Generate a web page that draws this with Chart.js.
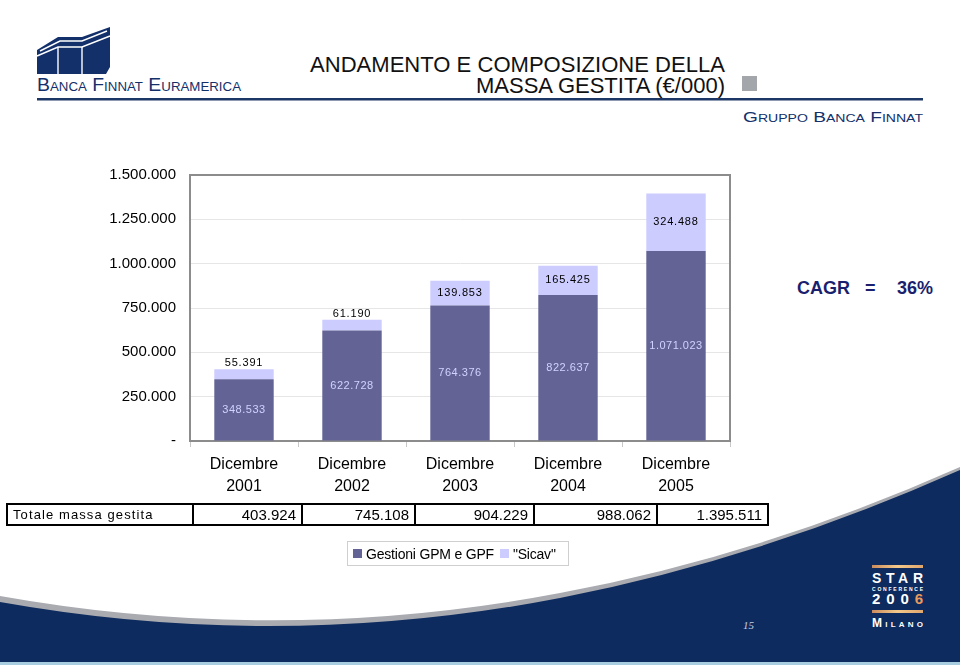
<!DOCTYPE html>
<html>
<head>
<meta charset="utf-8">
<script src="https://cdn.jsdelivr.net/npm/chart.js@4.4.1/dist/chart.umd.min.js"></script>
<style>
  html, body { margin: 0; padding: 0; background: #fff; }
  #page { position: relative; width: 960px; height: 665px; overflow: hidden; font-family: "Liberation Sans", Arial, sans-serif; }
  #bg { position: absolute; left: 0; top: 0; }
  #wrap { position: absolute; left: 0; top: 0; width: 960px; height: 665px; }
  #totals { position: absolute; left: 6px; top: 503px; width: 761px; height: 23px; border-collapse: collapse; table-layout: fixed; }
  #totals td { border: 2px solid #000; padding: 0 5px 0 0; height: 19px; font-size: 15px; text-align: right; color: #000; white-space: nowrap; overflow: hidden; }
  #totals td.head { text-align: left; font-size: 13px; letter-spacing: 1.1px; padding-left: 5px; }
  #legend { position: absolute; left: 347px; top: 541px; width: 222px; height: 25px; box-sizing: border-box; border: 1px solid #cfcfcf; font-size: 14px; display: flex; align-items: center; padding-left: 5px; }
  #legend .sw { display: inline-block; width: 9px; height: 9px; margin-right: 4px; }
  #legend .it { display: flex; align-items: center; margin-right: 6px; letter-spacing: -0.2px; }
</style>
</head>
<body>
<div id="page">
  <svg id="bg" width="960" height="665">
    <!-- bottom band -->
    <path d="M0,596 Q280,646 560,593 Q760,556 960,467 L960,665 L0,665 Z" fill="#a9abb0"/>
    <path d="M0,602 Q280,652 560,598 Q760,559 960,470 L960,665 L0,665 Z" fill="#0d2b5e"/>
    <rect x="0" y="662" width="960" height="3" fill="#a8cde0"/>

    <!-- logo -->
    <polygon points="37,50 58,37 82,37 110,27 110,67 106,74 37,74" fill="#13306a"/>
    <g stroke="#fff" stroke-width="1.4" fill="none">
      <polyline points="37,56 58,47 82,47 110,36"/>
      <polyline points="40,51 60,41 82,41 107,31"/>
      <line x1="58" y1="47" x2="58" y2="74"/>
      <line x1="82" y1="47" x2="82" y2="74"/>
    </g>
    <text x="37" y="91" textLength="204" lengthAdjust="spacingAndGlyphs" font-family="Liberation Sans" font-size="19" fill="#13306a" style="font-variant: small-caps">Banca Finnat Euramerica</text>
    <rect x="37" y="98" width="886" height="2.5" fill="#1c3766"/>

    <!-- title -->
    <text x="310" y="72" textLength="415" lengthAdjust="spacingAndGlyphs" font-family="Liberation Sans" font-size="22" fill="#111">ANDAMENTO E COMPOSIZIONE DELLA</text>
    <text x="725" y="93" text-anchor="end" font-family="Liberation Sans" font-size="22" fill="#111">MASSA GESTITA (€/000)</text>
    <rect x="742" y="76" width="15" height="15" fill="#a3a6aa"/>
    <text x="743" y="122" textLength="180" lengthAdjust="spacingAndGlyphs" font-family="Liberation Sans" font-size="15" fill="#13306a" style="font-variant: small-caps">Gruppo Banca Finnat</text>

    <!-- CAGR -->
    <g font-family="Liberation Sans" font-weight="bold" font-size="18" fill="#1a1f6e">
      <text x="797" y="294">CAGR</text>
      <text x="865" y="294">=</text>
      <text x="897" y="294">36%</text>
    </g>

    <!-- page number and conference mark -->
    <text x="743" y="629" font-family="Liberation Serif" font-style="italic" font-size="11" fill="#c7cfe0">15</text>
    <defs>
      <linearGradient id="gold" x1="0" x2="1">
        <stop offset="0" stop-color="#c98b5e"/>
        <stop offset="0.5" stop-color="#f3c98a"/>
        <stop offset="1" stop-color="#e0a66e"/>
      </linearGradient>
    </defs>
    <rect x="872" y="565" width="51" height="3" fill="url(#gold)"/>
    <rect x="872" y="610" width="51" height="3" fill="url(#gold)"/>
    <g font-family="Liberation Sans" font-weight="bold" fill="#fff">
      <text x="872" y="583" font-size="14" textLength="51" lengthAdjust="spacing">STAR</text>
      <text x="872" y="590.5" font-size="5" textLength="51" lengthAdjust="spacing">CONFERENCE</text>
      <text x="872" y="604" font-size="15" textLength="51" lengthAdjust="spacing">200<tspan fill="#e99a5c">6</tspan></text>
      <text x="872" y="627" font-size="12" textLength="51" lengthAdjust="spacing" style="font-variant: small-caps">Milano</text>
    </g>
  </svg>

  <div id="wrap"><canvas id="myChart" width="960" height="665"></canvas></div>
  <table id="totals"><colgroup id="cols"></colgroup><tr id="totalsRow"></tr></table>
  <div id="legend"></div>
</div>

<script>
// data
const categories = [
  ['Dicembre', '2001'],
  ['Dicembre', '2002'],
  ['Dicembre', '2003'],
  ['Dicembre', '2004'],
  ['Dicembre', '2005'],
];
const gpm = [348533, 622728, 764376, 822637, 1071023];
const sicav = [55391, 61190, 139853, 165425, 324488];
const totals = [403924, 745108, 904229, 988062, 1395511];
const yTicks = [0, 250000, 500000, 750000, 1000000, 1250000, 1500000];
const seriesNames = ['Gestioni GPM e GPF', '"Sicav"'];
const rowTitle = 'Totale massa gestita';

const darkColor = '#636396';
const lightColor = '#ccccff';

function fmt(n) {
  return n.toString().replace(/\B(?=(\d{3})+(?!\d))/g, '.');
}

// frame around the plot (top/right edges)
const framePlugin = {
  id: 'frame',
  beforeDatasetsDraw(chart) {
    const a = chart.chartArea;
    const ctx = chart.ctx;
    ctx.save();
    ctx.strokeStyle = '#8c8c8c';
    ctx.lineWidth = 2;
    ctx.strokeRect(a.left, a.top, a.right - a.left, a.bottom - a.top);
    ctx.restore();
  }
};

// value labels on the bars
const labelPlugin = {
  id: 'barLabels',
  afterDatasetsDraw(chart) {
    const ctx = chart.ctx;
    ctx.save();
    ctx.textAlign = 'center';
    ctx.textBaseline = 'middle';
    chart.data.datasets.forEach((ds, i) => {
      const meta = chart.getDatasetMeta(i);
      meta.data.forEach((bar, j) => {
        const v = ds.data[j];
        const h = bar.base - bar.y;
        let y = (bar.y + bar.base) / 2;
        if (i === 0) {
          ctx.fillStyle = '#d2d2ff';
          ctx.font = '11px "Liberation Sans"';
          ctx.letterSpacing = '0.5px';
        } else {
          ctx.fillStyle = '#000';
          ctx.font = '11px "Liberation Sans"';
          ctx.letterSpacing = '0.8px';
          if (h < 16) y = bar.y - 6;
        }
        ctx.fillText(fmt(v), bar.x, y);
      });
    });
    ctx.restore();
  }
};

Chart.defaults.font.family = '"Liberation Sans", Arial, sans-serif';
Chart.defaults.color = '#000';

const myChart = new Chart(document.getElementById('myChart'), {
  type: 'bar',
  data: {
    labels: categories,
    datasets: [
      { label: seriesNames[0], data: gpm, backgroundColor: darkColor, barPercentage: 0.55, categoryPercentage: 1 },
      { label: seriesNames[1], data: sicav, backgroundColor: lightColor, barPercentage: 0.55, categoryPercentage: 1 },
    ]
  },
  options: {
    responsive: false,
    animation: false,
    layout: { padding: { left: 0, right: 230, top: 175, bottom: 174 } },
    scales: {
      x: {
        stacked: true,
        grid: { drawOnChartArea: false, drawTicks: true, tickLength: 6, color: '#c8c8c8' },
        border: { color: '#8c8c8c', width: 2 },
        ticks: { font: { size: 16, lineHeight: 1.375 }, padding: 7, maxRotation: 0, autoSkip: false },
        afterFit(scale) { scale.height = 50; }
      },
      y: {
        stacked: true,
        min: 0,
        max: 1500000,
        afterBuildTicks(scale) { scale.ticks = yTicks.map(v => ({ value: v })); },
        grid: { color: '#e6e6e6', drawTicks: false },
        border: { color: '#8c8c8c', width: 2 },
        ticks: {
          font: { size: 15 },
          padding: 14,
          callback: v => (v === 0 ? '-' : fmt(v))
        },
        afterFit(scale) { scale.width = 190; }
      }
    },
    plugins: {
      legend: { display: false },
      tooltip: { enabled: false }
    }
  },
  plugins: [framePlugin, labelPlugin]
});

// totals row
const colWidths = [186, 109, 113, 119, 123, 111];
const cols = document.getElementById('cols');
const row = document.getElementById('totalsRow');
[rowTitle].concat(totals.map(fmt)).forEach((txt, i) => {
  const col = document.createElement('col');
  col.style.width = colWidths[i] + 'px';
  cols.appendChild(col);
  const td = document.createElement('td');
  td.textContent = txt;
  if (i === 0) td.className = 'head';
  row.appendChild(td);
});

// legend
const legend = document.getElementById('legend');
myChart.data.datasets.forEach(ds => {
  const it = document.createElement('span');
  it.className = 'it';
  it.innerHTML = '<span class="sw" style="background:' + ds.backgroundColor + '"></span>';
  it.appendChild(document.createTextNode(ds.label));
  legend.appendChild(it);
});
</script>
</body>
</html>
